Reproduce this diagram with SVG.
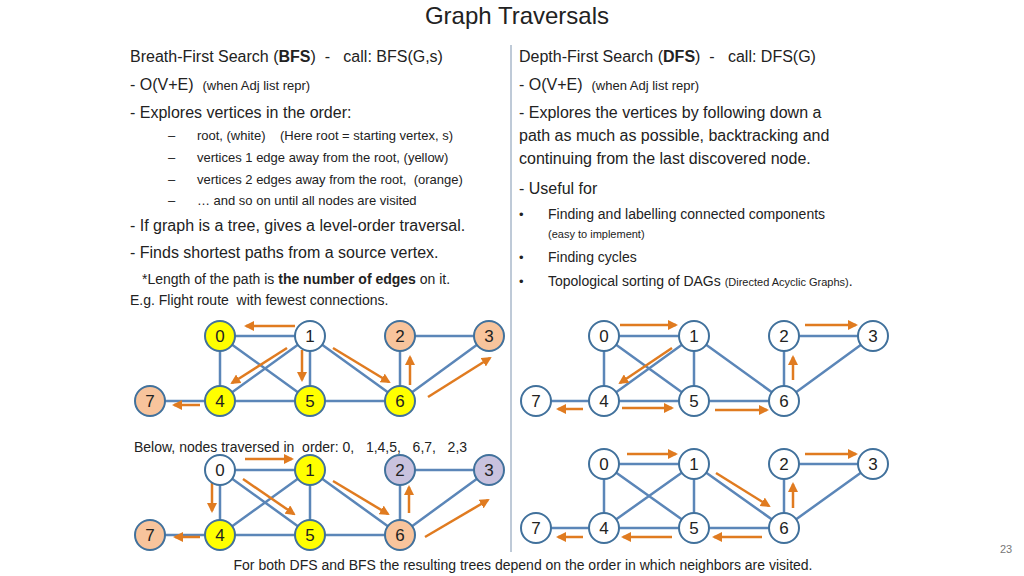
<svg xmlns="http://www.w3.org/2000/svg" width="1024" height="576" viewBox="0 0 1024 576">
<style>
text{font-family:"Liberation Sans",Arial,sans-serif;fill:#222;white-space:pre}
.b{font-size:16px}.s{font-size:13px}.xs{font-size:11px}
.e{stroke:#5b86b8;stroke-width:2.5;fill:none}
.a{stroke:#e07b20;stroke-width:2.5;fill:none;marker-end:url(#ah)}
circle{stroke:#41719c;stroke-width:2}
.n text{font-size:17px;text-anchor:middle}
.w{fill:#fff}.y{fill:#ffff00}.o{fill:#f8c49c}.l{fill:#c9c2de}
</style>
<defs>
<marker id="ah" viewBox="0 0 10 10" refX="8" refY="5" markerWidth="4" markerHeight="4" orient="auto"><path d="M0,0L10,5L0,10z" fill="#e07b20"/></marker>
</defs>
<rect width="1024" height="576" fill="#fff"/>
<text x="517" y="24" text-anchor="middle" style="font-size:24px">Graph Traversals</text>
<line x1="511" y1="45" x2="511" y2="552" stroke="#7f95b0" stroke-width="1"/>
<g id="left-text">
<text x="130" y="62" class="b">Breath-First Search (<tspan font-weight="bold">BFS</tspan>)  -   call: BFS(G,s)</text>
<text x="130" y="90" class="b">- O(V+E)  <tspan class="s">(when Adj list repr)</tspan></text>
<text x="130" y="118" class="b">- Explores vertices in the order:</text>
<text x="168" y="140" class="s">–      root, (white)    (Here root = starting vertex, s)</text>
<text x="168" y="162" class="s">–      vertices 1 edge away from the root, (yellow)</text>
<text x="168" y="184" class="s">–      vertices 2 edges away from the root,  (orange)</text>
<text x="168" y="205" class="s">–      … and so on until all nodes are visited</text>
<text x="130" y="231" class="b">- If graph is a tree, gives a level-order traversal.</text>
<text x="130" y="258" class="b">- Finds shortest paths from a source vertex.</text>
<text x="142" y="284" class="s" style="font-size:14px">*Length of the path is <tspan font-weight="bold">the number of edges</tspan> on it.</text>
<text x="130" y="305" class="s" style="font-size:14px">E.g. Flight route  with fewest connections.</text>
<text x="134" y="452" class="s" style="font-size:14px">Below, nodes traversed in  order: 0,   1,4,5,   6,7,   2,3</text>
</g>
<g id="right-text">
<text x="519" y="62" class="b">Depth-First Search (<tspan font-weight="bold">DFS</tspan>)  -   call: DFS(G)</text>
<text x="519" y="90" class="b">- O(V+E)  <tspan class="s">(when Adj list repr)</tspan></text>
<text x="519" y="118" class="b">- Explores the vertices by following down a</text>
<text x="519" y="141" class="b">path as much as possible, backtracking and</text>
<text x="519" y="164" class="b">continuing from the last discovered node.</text>
<text x="519" y="194" class="b">- Useful for</text>
<text x="519" y="219" class="s">•</text><text x="548" y="219" class="s" style="font-size:14px">Finding and labelling connected components</text>
<text x="548" y="238" class="xs">(easy to implement)</text>
<text x="519" y="262" class="s">•</text><text x="548" y="262" class="s" style="font-size:14px">Finding cycles</text>
<text x="519" y="286" class="s">•</text><text x="548" y="286" class="s" style="font-size:14px">Topological sorting of DAGs <tspan class="xs">(Directed Acyclic Graphs)</tspan>.</text>
</g>
<text x="523" y="570" text-anchor="middle" class="s" style="font-size:14px">For both DFS and BFS the resulting trees depend on the order in which neighbors are visited.</text>
<text x="1000" y="553" class="xs" style="fill:#777">23</text>

<g id="connectors">
<g class="e">
<path d="M220,336H310M220,336V401M220,336L310,401M310,336L220,401M310,336V401M310,336L400,401M400,336H489M400,336V401M489,336L400,401M220,401H310M220,401H150M310,401H400"/>
<path d="M604,336H694M604,336V401M604,336L694,401M694,336L604,401M694,336V401M694,336L784,401M784,336H873M784,336V401M873,336L784,401M604,401H694M604,401H536M694,401H784"/>
<path d="M220,470H310M220,470V535M220,470L310,535M310,470L220,535M310,470V535M310,470L400,535M400,470H489M400,470V535M489,470L400,535M220,535H310M220,535H150M310,535H400"/>
<path d="M604,464H694M604,464V528M604,464L694,528M694,464L604,528M694,464V528M694,464L784,528M784,464H873M784,464V528M873,464L784,528M604,528H694M604,528H536M694,528H784"/>
</g>
<path class="a" d="M295,326H246"/><path class="a" d="M287,348L232,383"/><path class="a" d="M302,350V380"/><path class="a" d="M333,348L389,382"/><path class="a" d="M410,385V357"/><path class="a" d="M428,397L490,358"/><path class="a" d="M200,405H174"/>
<path class="a" d="M620,325H676"/><path class="a" d="M672,348L620,383"/><path class="a" d="M583,409H558"/><path class="a" d="M622,408H672"/><path class="a" d="M715,410H767"/><path class="a" d="M793,380V357"/><path class="a" d="M805,325H856"/>
<path class="a" d="M245,459H292"/><path class="a" d="M212,482V511"/><path class="a" d="M243,479L294,514"/><path class="a" d="M333,481L388,514"/><path class="a" d="M409,513V487"/><path class="a" d="M425,537L488,500"/><path class="a" d="M200,537H175"/>
<path class="a" d="M627,454H676"/><path class="a" d="M716,473L769,506"/><path class="a" d="M793,508V484"/><path class="a" d="M805,454H856"/><path class="a" d="M762,537H714"/><path class="a" d="M672,537H623"/><path class="a" d="M583,537H558"/>
</g>

<g id="bfs-top" class="n">
<g id="t0"><circle class="y" cx="220" cy="336" r="15"/><text x="220" y="342">0</text></g>
<g id="t1"><circle class="w" cx="310" cy="336" r="15"/><text x="310" y="342">1</text></g>
<g id="t2"><circle class="o" cx="400" cy="336" r="15"/><text x="400" y="342">2</text></g>
<g id="t3"><circle class="o" cx="489" cy="336" r="15"/><text x="489" y="342">3</text></g>
<g id="t7"><circle class="o" cx="150" cy="401" r="15"/><text x="150" y="407">7</text></g>
<g id="t4"><circle class="y" cx="220" cy="401" r="15"/><text x="220" y="407">4</text></g>
<g id="t5"><circle class="y" cx="310" cy="401" r="15"/><text x="310" y="407">5</text></g>
<g id="t6"><circle class="y" cx="400" cy="401" r="15"/><text x="400" y="407">6</text></g>
</g>
<g id="dfs-top" class="n">
<g id="r0"><circle class="w" cx="604" cy="336" r="15"/><text x="604" y="342">0</text></g>
<g id="r1"><circle class="w" cx="694" cy="336" r="15"/><text x="694" y="342">1</text></g>
<g id="r2"><circle class="w" cx="784" cy="336" r="15"/><text x="784" y="342">2</text></g>
<g id="r3"><circle class="w" cx="873" cy="336" r="15"/><text x="873" y="342">3</text></g>
<g id="r7"><circle class="w" cx="536" cy="401" r="15"/><text x="536" y="407">7</text></g>
<g id="r4"><circle class="w" cx="604" cy="401" r="15"/><text x="604" y="407">4</text></g>
<g id="r5"><circle class="w" cx="694" cy="401" r="15"/><text x="694" y="407">5</text></g>
<g id="r6"><circle class="w" cx="784" cy="401" r="15"/><text x="784" y="407">6</text></g>
</g>
<g id="bfs-bottom" class="n">
<g id="b0"><circle class="w" cx="220" cy="470" r="15"/><text x="220" y="476">0</text></g>
<g id="b1"><circle class="y" cx="310" cy="470" r="15"/><text x="310" y="476">1</text></g>
<g id="b2"><circle class="l" cx="400" cy="470" r="15"/><text x="400" y="476">2</text></g>
<g id="b3"><circle class="l" cx="489" cy="470" r="15"/><text x="489" y="476">3</text></g>
<g id="b7"><circle class="o" cx="150" cy="535" r="15"/><text x="150" y="541">7</text></g>
<g id="b4"><circle class="y" cx="220" cy="535" r="15"/><text x="220" y="541">4</text></g>
<g id="b5"><circle class="y" cx="310" cy="535" r="15"/><text x="310" y="541">5</text></g>
<g id="b6"><circle class="o" cx="400" cy="535" r="15"/><text x="400" y="541">6</text></g>
</g>
<g id="dfs-bottom" class="n">
<g id="d0"><circle class="w" cx="604" cy="464" r="15"/><text x="604" y="470">0</text></g>
<g id="d1"><circle class="w" cx="694" cy="464" r="15"/><text x="694" y="470">1</text></g>
<g id="d2"><circle class="w" cx="784" cy="464" r="15"/><text x="784" y="470">2</text></g>
<g id="d3"><circle class="w" cx="873" cy="464" r="15"/><text x="873" y="470">3</text></g>
<g id="d7"><circle class="w" cx="536" cy="528" r="15"/><text x="536" y="534">7</text></g>
<g id="d4"><circle class="w" cx="604" cy="528" r="15"/><text x="604" y="534">4</text></g>
<g id="d5"><circle class="w" cx="694" cy="528" r="15"/><text x="694" y="534">5</text></g>
<g id="d6"><circle class="w" cx="784" cy="528" r="15"/><text x="784" y="534">6</text></g>
</g>
</svg>
